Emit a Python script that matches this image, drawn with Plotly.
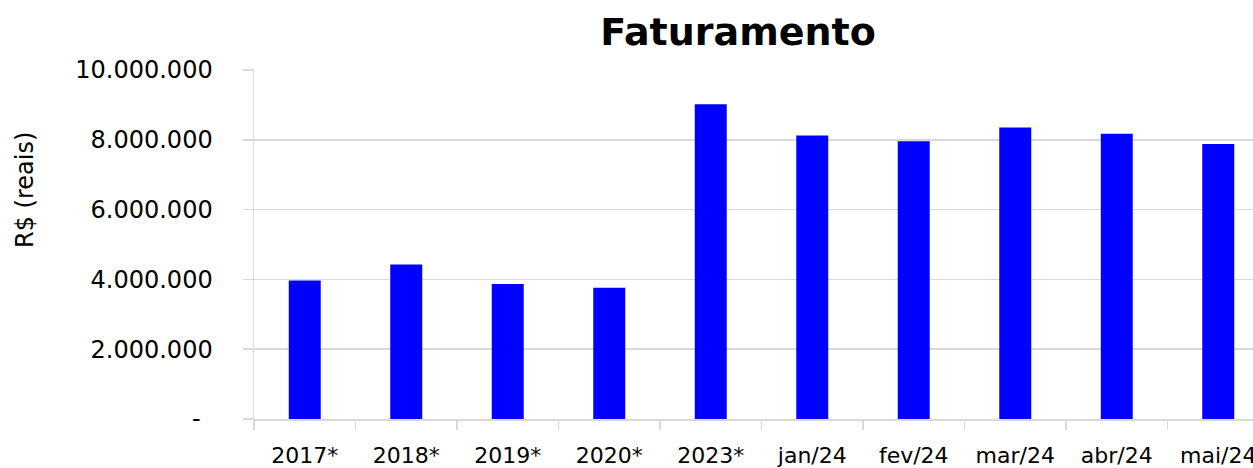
import plotly.graph_objects as go

categories = ["2017*", "2018*", "2019*", "2020*", "2023*", "jan/24", "fev/24", "mar/24", "abr/24", "mai/24"]
faturamento = [3970000, 4430000, 3870000, 3760000, 9020000, 8120000, 7960000, 8350000, 8170000, 7880000]
y_tickvals = [0, 2000000, 4000000, 6000000, 8000000, 10000000]
y_ticktext = ["-\u2002", "2.000.000", "4.000.000", "6.000.000", "8.000.000", "10.000.000"]

W, H = 1253, 468
L, R, T, B = 254, 0, 70, 49
cat_px = 101.5
x_hi = -0.5 + (W - L - R) / cat_px
plot_h = H - T - B

grid = "#d9d9d9"
font = "DejaVu Sans"

fig = go.Figure(
    go.Bar(
        x=categories,
        y=faturamento,
        marker=dict(color="#0000ff", line=dict(width=0)),
        hoverinfo="skip",
    )
)

fig.update_layout(
    width=W,
    height=H,
    margin=dict(l=L, r=R, t=T, b=B, autoexpand=False),
    paper_bgcolor="white",
    plot_bgcolor="white",
    bargap=0.685,
    showlegend=False,
    title=dict(
        text="<b>Faturamento</b>",
        font=dict(family=font, size=38, color="black"),
        x=738 / W,
        xanchor="center",
        xref="container",
        y=1 - 32 / H,
        yref="container",
        yanchor="middle",
    ),
    font=dict(family=font, color="black"),
    annotations=[
        dict(
            text="R$ (reais)",
            textangle=-90,
            xref="paper",
            yref="paper",
            x=0,
            xshift=-(L - 25),
            xanchor="center",
            y=(H - B - 190) / plot_h,
            yanchor="middle",
            showarrow=False,
            font=dict(family=font, size=24, color="black"),
        )
    ],
)

fig.update_xaxes(
    type="category",
    range=[-0.5, x_hi],
    tickson="boundaries",
    ticks="outside",
    ticklen=9,
    tickcolor=grid,
    tickwidth=1.5,
    showgrid=False,
    showline=True,
    linecolor=grid,
    linewidth=1.5,
    tickfont=dict(family=font, size=22, color="black"),
    ticklabelstandoff=16,
    automargin=False,
    fixedrange=True,
)

fig.update_yaxes(
    range=[0, 10000000],
    tickvals=y_tickvals,
    ticktext=y_ticktext,
    ticks="outside",
    ticklen=10,
    tickcolor=grid,
    tickwidth=1.5,
    showgrid=True,
    gridcolor=grid,
    gridwidth=1.5,
    showline=True,
    linecolor=grid,
    linewidth=1.5,
    zeroline=False,
    tickfont=dict(family=font, size=24, color="black"),
    ticklabelstandoff=25,
    automargin=False,
    fixedrange=True,
)

fig.write_html(
    "out.html",
    config={"displayModeBar": False, "staticPlot": True},
    post_script="document.body.style.margin='0';document.body.style.overflow='hidden';",
)
